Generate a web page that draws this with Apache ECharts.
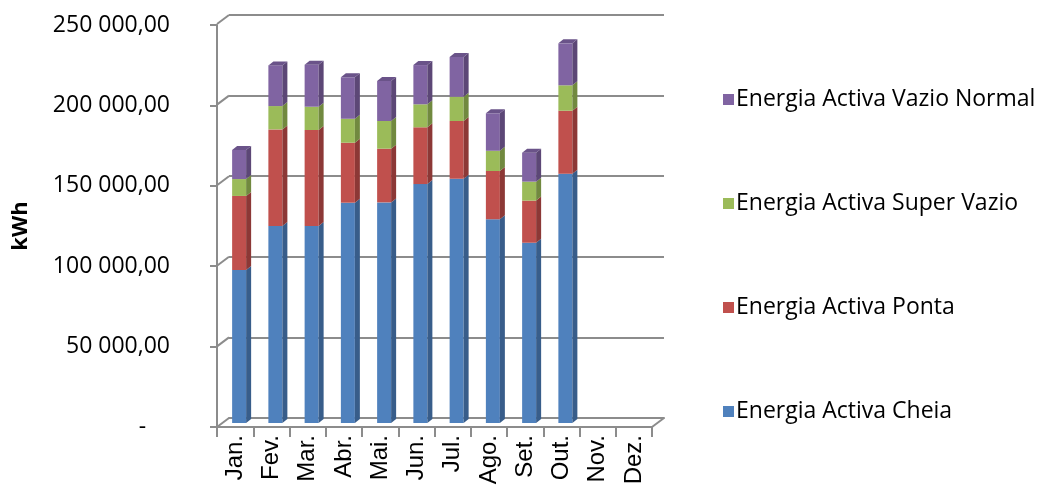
<!DOCTYPE html>
<html>
<head>
<meta charset="utf-8">
<script src="https://cdn.jsdelivr.net/npm/echarts@6/dist/echarts.min.js"></script>
<style>
html,body{margin:0;padding:0;background:#fff;}
#c{width:1044px;height:495px;}
</style>
</head>
<body>
<div id="c"></div>
<script>
var categories = ['Jan.','Fev.','Mar.','Abr.','Mai.','Jun.','Jul.','Ago.','Set.','Out.','Nov.','Dez.'];
var cheia      = [95100,122500,122500,137000,137200,148600,151900,126700,112100,155000,null,null];
var ponta      = [46100,60100,59700,37300,33400,35300,35900,30000,26200,39200,null,null];
var superVazio = [10500,14500,14500,14900,17200,14300,15100,12600,11800,15800,null,null];
var vazioNormal= [18100,25300,26100,25800,24900,24400,24700,23300,18000,26100,null,null];
var yTicks = [0,50000,100000,150000,200000,250000];

var seriesNames = ['Energia Activa Cheia','Energia Activa Ponta','Energia Activa Super Vazio','Energia Activa Vazio Normal'];
var seriesValues = [cheia, ponta, superVazio, vazioNormal];
var colors = ['#4F81BD','#C0504D','#9BBB59','#8064A2'];
var sideColors = ['#385D8A','#8C3836','#71893F','#5C4776'];
var topColors = ['#5B8CC6','#9E403D','#86A34A','#6A5389'];

var FONT = 'Open Sans';

function fmt(v){
  if(v===0) return '-    ';
  var s = Math.round(v).toString();
  var out = '';
  while(s.length>3){ out = ' ' + s.slice(-3) + out; s = s.slice(0,-3); }
  return s + out + ',00';
}

// stacked data
var base = categories.map(function(){return 0;});
var series = [];
seriesValues.forEach(function(vals, si){
  var data = [];
  vals.forEach(function(v, i){
    if(v==null){ data.push([i, null, null]); return; }
    data.push([i, base[i], base[i]+v]);
    base[i] += v;
  });
  series.push({
    name: seriesNames[si],
    type: 'custom',
    xAxisIndex: 2, yAxisIndex: 2,
    itemStyle: {color: colors[si]},
    encode: {x: 0, y: [1,2]},
    data: data,
    z: 5,
    renderItem: (function(si){ return function(params, api){
      var lo = api.value(1), hi = api.value(2);
      if(lo==null || hi==null || isNaN(hi)) return;
      var p0 = api.coord([api.value(0), lo]);
      var p1 = api.coord([api.value(0), hi]);
      var w = 14, dx = 5, dy = -4;
      var x0 = p0[0] - w/2, x1 = p0[0] + w/2;
      var yb = p0[1], yt = p1[1];
      var children = [
        {type:'rect', shape:{x:x0, y:yt, width:w, height:yb-yt}, style:{fill:colors[si]}},
        {type:'polygon', shape:{points:[[x1,yb],[x1+dx,yb+dy],[x1+dx,yt+dy],[x1,yt]]}, style:{fill:sideColors[si]}}
      ];
      if(si===3){
        children.push({type:'polygon', shape:{points:[[x0,yt],[x0+dx,yt+dy],[x1+dx,yt+dy],[x1,yt]]}, style:{fill:topColors[si]}});
      }
      return {type:'group', children: children};
    };})(si)
  });
});

// slanted connectors from front axis ticks to back wall gridlines
series.push({
  type:'custom', xAxisIndex:1, yAxisIndex:1, silent:true, z:2,
  data: yTicks.map(function(v){return [0, v];}),
  renderItem: function(params, api){
    var cs = params.coordSys;
    var y = api.coord([0, api.value(1)])[1];
    var items = [{type:'line', shape:{x1:cs.x, y1:y, x2:cs.x-12, y2:y+9}, style:{stroke:'#8c8c8c', lineWidth:2}}];
    if(api.value(1)===0){
      items.push({type:'line', shape:{x1:cs.x+cs.width, y1:y, x2:cs.x+cs.width-12, y2:y+9}, style:{stroke:'#8c8c8c', lineWidth:2}});
    }
    return {type:'group', children: items};
  }
});

var option = {
  animation:false,
  backgroundColor:'#fff',
  textStyle:{fontFamily:FONT},
  legend:{
    orient:'vertical', left:718, top:83,
    data: seriesNames.slice().reverse(),
    icon:'rect', itemWidth:11, itemHeight:11, itemGap:81,
    textStyle:{fontFamily:FONT, fontSize:23, color:'#000', padding:[0,0,0,-3]},
    selectedMode:false
  },
  grid:[
    {left:217, top:25, width:435, height:402},
    {left:229, top:15, width:435, height:403},
    {left:221, top:21, width:435, height:402}
  ],
  xAxis:[
    {gridIndex:0, type:'category', data:categories, boundaryGap:true,
     axisLine:{lineStyle:{color:'#8c8c8c', width:2}},
     axisTick:{show:true, length:10, lineStyle:{color:'#8c8c8c', width:2}},
     axisLabel:{rotate:90, fontFamily:'Liberation Sans', fontSize:24, color:'#000', margin:8, interval:0}},
    {gridIndex:1, type:'category', data:categories, boundaryGap:true,
     axisLine:{lineStyle:{color:'#8c8c8c', width:2}}, axisTick:{show:false}, axisLabel:{show:false}},
    {gridIndex:2, type:'category', data:categories, boundaryGap:true, show:false}
  ],
  yAxis:[
    {gridIndex:0, type:'value', min:0, max:250000, interval:50000,
     name:'kWh', nameLocation:'middle', nameGap:185, nameRotate:90,
     nameTextStyle:{fontFamily:FONT, fontSize:22, fontWeight:'bold', color:'#000'},
     axisLine:{show:true, lineStyle:{color:'#8c8c8c', width:2}},
     axisTick:{show:true, length:7, lineStyle:{color:'#8c8c8c', width:2}},
     splitLine:{show:false},
     axisLabel:{formatter:fmt, fontFamily:FONT, fontSize:23, color:'#000', margin:47}},
    {gridIndex:1, type:'value', min:0, max:250000, interval:50000,
     axisLine:{show:false}, axisTick:{show:false}, axisLabel:{show:false},
     splitLine:{show:true, lineStyle:{color:'#8c8c8c', width:2}}},
    {gridIndex:2, type:'value', min:0, max:250000, interval:50000, show:false, splitLine:{show:false}}
  ],
  series: series
};

var chart = echarts.init(document.getElementById('c'));
chart.setOption(option);
</script>
</body>
</html>
